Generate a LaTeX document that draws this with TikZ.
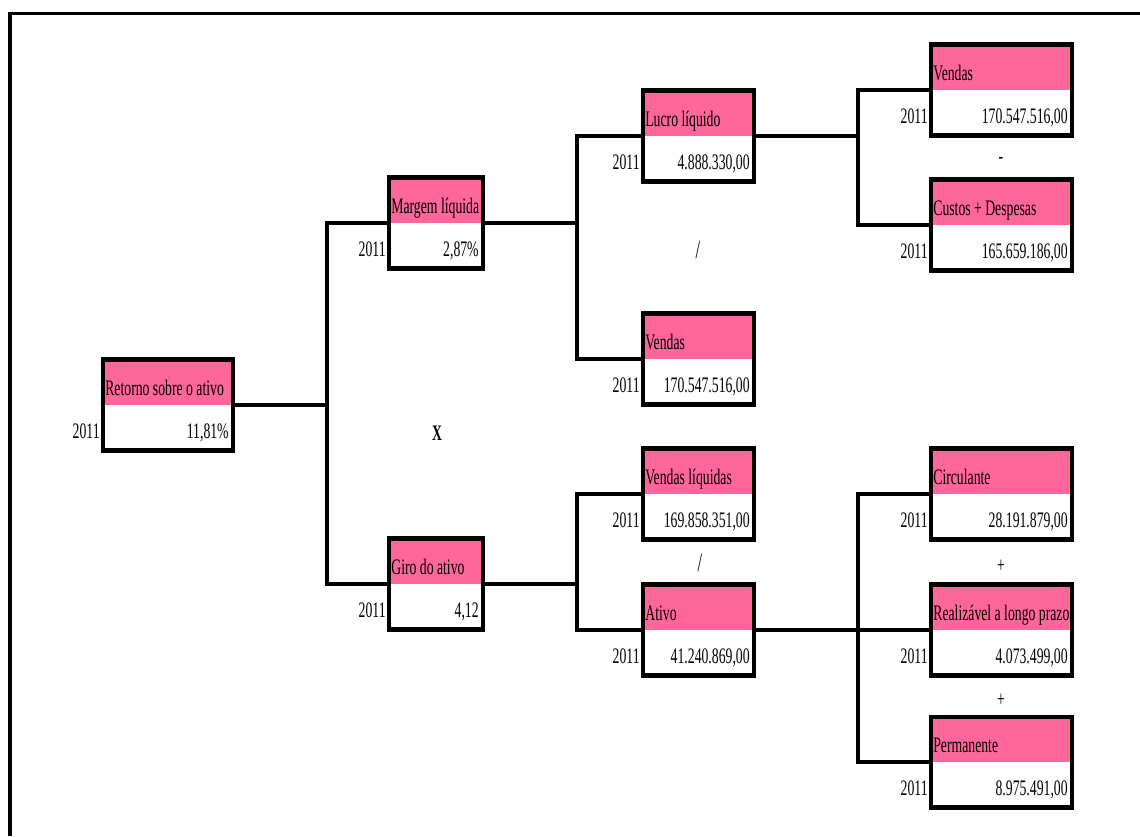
\documentclass[tikz,border=0pt]{standalone}
\usepackage{fontspec}
\setmainfont{Liberation Serif}[FakeStretch=0.62]
\usetikzlibrary{calc}
\definecolor{rosa}{RGB}{255,102,153}

\tikzset{
  caixa/.style={draw, line width=2.3pt, fill=white, minimum height=1.82cm, inner sep=0pt,
    path picture={\fill[rosa] (path picture bounding box.north west) rectangle (path picture bounding box.east);}},
  conector/.style={line width=1.8pt},
  rotulo/.style={inner sep=0pt, font=\fontsize{12.6}{14}\selectfont},
}

% nome, x, y, largura, titulo, valor
\newcommand{\indicador}[6]{%
  \node[caixa, minimum width=#4] (#1) at (#2,#3) {};
  \node[rotulo, anchor=base west] (#1-t) at ($(#1.west)+(4,-10)$) {#5};
  \node[rotulo, anchor=base east] (#1-v) at ($(#1.east)+(-6,33)$) {#6};
  \node[rotulo, anchor=base east] (#1-a) at ($(#1.west)+(-1,33)$) {2011};
}

\begin{document}
\begin{tikzpicture}[x=0.02cm,y=-0.02cm]
\useasboundingbox (0,0) rectangle (1140,836);
\draw[line width=2.2pt] (10,836) -- (10,13.5) -- (1140,13.5);

\indicador{ra}{168}{405}{2.6cm}{Retorno sobre o ativo}{11,81\%}
\indicador{ml}{436}{223}{1.88cm}{Margem líquida}{2,87\%}
\indicador{ga}{436}{584}{1.88cm}{Giro do ativo}{4,12}
\indicador{ll}{698.5}{136}{2.22cm}{Lucro líquido}{4.888.330,00}
\indicador{vm}{698.5}{359}{2.22cm}{Vendas}{170.547.516,00}
\indicador{vl}{698.5}{494}{2.22cm}{Vendas líquidas}{169.858.351,00}
\indicador{at}{698.5}{630}{2.22cm}{Ativo}{41.240.869,00}
\indicador{vd}{1001.5}{90}{2.82cm}{Vendas}{170.547.516,00}
\indicador{cd}{1001.5}{225}{2.82cm}{Custos + Despesas}{165.659.186,00}
\indicador{ci}{1001.5}{494}{2.82cm}{Circulante}{28.191.879,00}
\indicador{rl}{1001.5}{630}{2.82cm}{Realizável a longo prazo}{4.073.499,00}
\indicador{pe}{1001.5}{762}{2.82cm}{Permanente}{8.975.491,00}

% ligacoes
\coordinate (j1) at (327,405);
\coordinate (j2) at (577,0);
\coordinate (j3) at (858,0);
\draw[conector] (ra.east) -- (ra.east -| j1);
\draw[conector] (ml.west) -| (j1 |- ga.west) -- (ga.west);
\draw[conector] (ml.east) -- (ml.east -| j2);
\draw[conector] (ll.west) -| (j2 |- vm.west) -- (vm.west);
\draw[conector] (ga.east) -- (ga.east -| j2);
\draw[conector] (vl.west) -| (j2 |- at.west) -- (at.west);
\draw[conector] (ll.east) -- (ll.east -| j3);
\draw[conector] (vd.west) -| (j3 |- cd.west) -- (cd.west);
\draw[conector] (at.east) -- (at.east -| j3);
\draw[conector] (ci.west) -| (j3 |- pe.west) -- (pe.west);
\draw[conector] (rl.west) -- (rl.west -| j3);

% operadores
\node[rotulo] (op1) at (1001,160) {-};
\node[rotulo, font=\fontsize{15}{17}\selectfont] (op2) at (698,250) {/};
\node[rotulo, font=\fontsize{12.6}{14}\selectfont\bfseries] (op3) at (437,433) {X};
\node[rotulo, font=\fontsize{15}{17}\selectfont] (op4) at (700,563) {/};
\node[rotulo] (op5) at (1001,566) {+};
\node[rotulo] (op6) at (1001,700) {+};
\end{tikzpicture}
\end{document}
